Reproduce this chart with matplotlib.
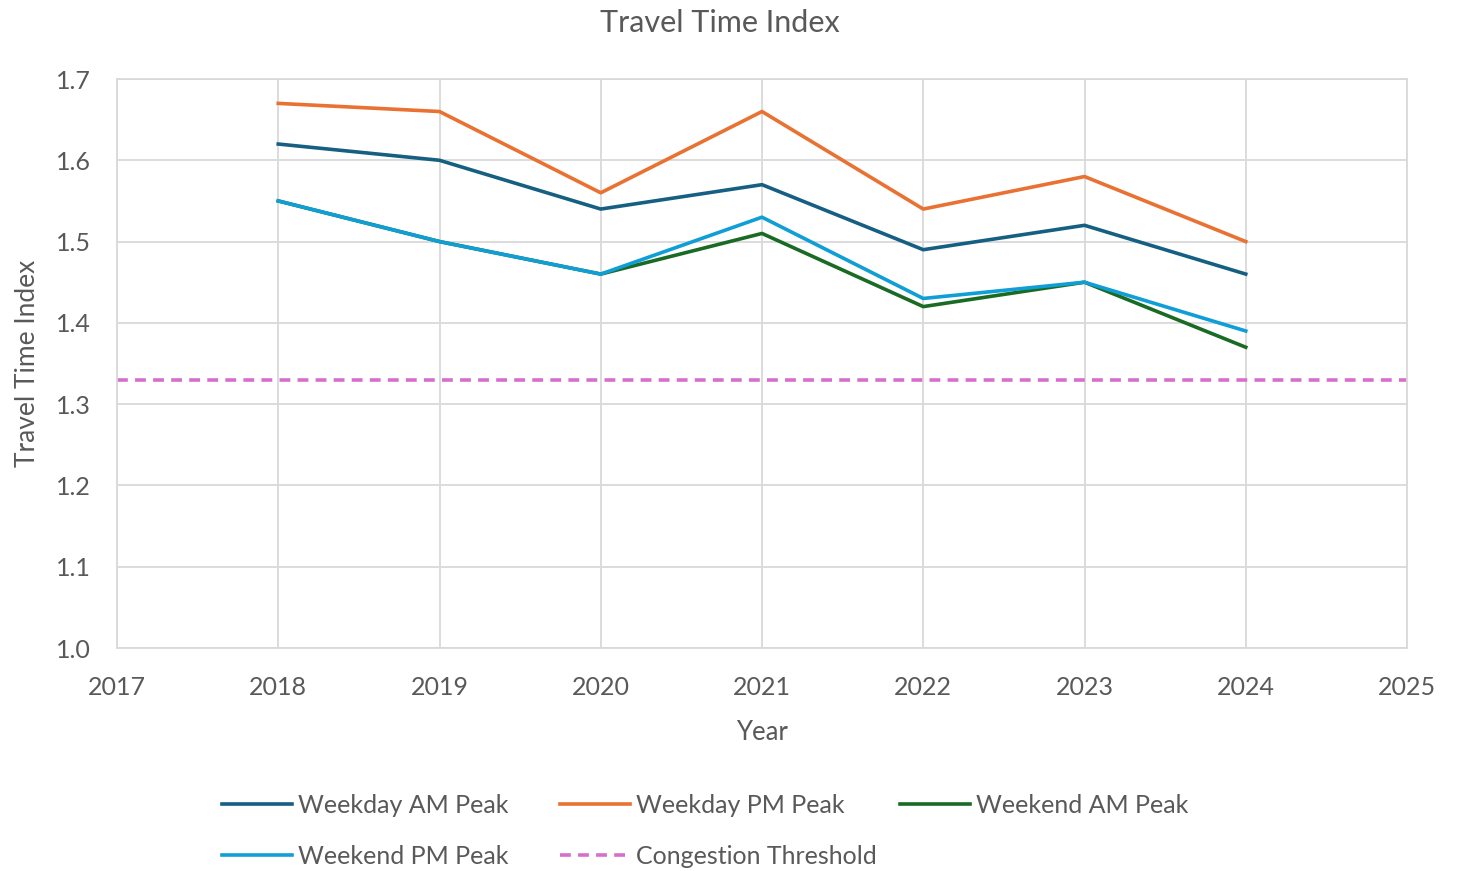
import matplotlib
matplotlib.use("Agg")
import matplotlib.pyplot as plt

years = [2018, 2019, 2020, 2021, 2022, 2023, 2024]
weekday_am = [1.62, 1.60, 1.54, 1.57, 1.49, 1.52, 1.46]
weekday_pm = [1.67, 1.66, 1.56, 1.66, 1.54, 1.58, 1.50]
weekend_am = [1.55, 1.50, 1.46, 1.51, 1.42, 1.45, 1.37]
weekend_pm = [1.55, 1.50, 1.46, 1.53, 1.43, 1.45, 1.39]
threshold = 1.33
x_ticks = [2017, 2018, 2019, 2020, 2021, 2022, 2023, 2024, 2025]
y_ticks = [1.0, 1.1, 1.2, 1.3, 1.4, 1.5, 1.6, 1.7]

plt.rcParams['font.family'] = ['Lato', 'DejaVu Sans']
txt = '#595959'

fig = plt.figure(figsize=(14.6, 8.71), dpi=100)
ax = fig.add_axes([117/1460, 1-648/871, (1407-117)/1460, (648-79)/871])

lw = 2.6
ax.plot(years, weekday_am, color='#156082', lw=lw, label='Weekday AM Peak')
ax.plot(years, weekday_pm, color='#E97132', lw=lw, label='Weekday PM Peak')
ax.plot(years, weekend_am, color='#196B24', lw=lw, label='Weekend AM Peak')
ax.plot(years, weekend_pm, color='#0F9ED5', lw=lw, label='Weekend PM Peak')
ax.axhline(threshold, color='#D86ECC', lw=lw, ls=(0, (3, 2)), label='Congestion Threshold')

ax.set_xlim(2017, 2025)
ax.set_ylim(1.0, 1.7)
ax.set_xticks(x_ticks)
ax.set_yticks(y_ticks)
ax.set_yticklabels([f'{v:.1f}' for v in y_ticks])
ax.grid(True, color='#D9D9D9', lw=1.3)
ax.set_axisbelow(True)
for s in ax.spines.values():
    s.set_color('#D9D9D9')
    s.set_linewidth(1.3)
ax.tick_params(length=0, labelsize=18, colors=txt)
ax.tick_params(axis='x', pad=20)
ax.tick_params(axis='y', pad=19)
ax.set_xlabel('Year', fontsize=18.5, color=txt, labelpad=15)
ax.set_ylabel('Travel Time Index', fontsize=19, color=txt, labelpad=11)
fig.text(720/1460, 1-23/871, 'Travel Time Index', fontsize=22, color=txt,
         ha='center', va='center')

h, l = ax.get_legend_handles_labels()
# legend slots: (handle index, x px, y px)
slots = [(0, 222, 805), (1, 560, 805), (2, 900, 805), (3, 222, 856), (4, 560, 856)]
for i, xp, yp in slots:
    lg = fig.legend([h[i]], [l[i]], loc='center left',
                    bbox_to_anchor=(xp/1460, 1-yp/871), frameon=False,
                    fontsize=18, handlelength=2.8, handletextpad=0.25,
                    borderpad=0, borderaxespad=0)
    for t in lg.get_texts():
        t.set_color(txt)

fig.savefig('out.png', dpi=100)
